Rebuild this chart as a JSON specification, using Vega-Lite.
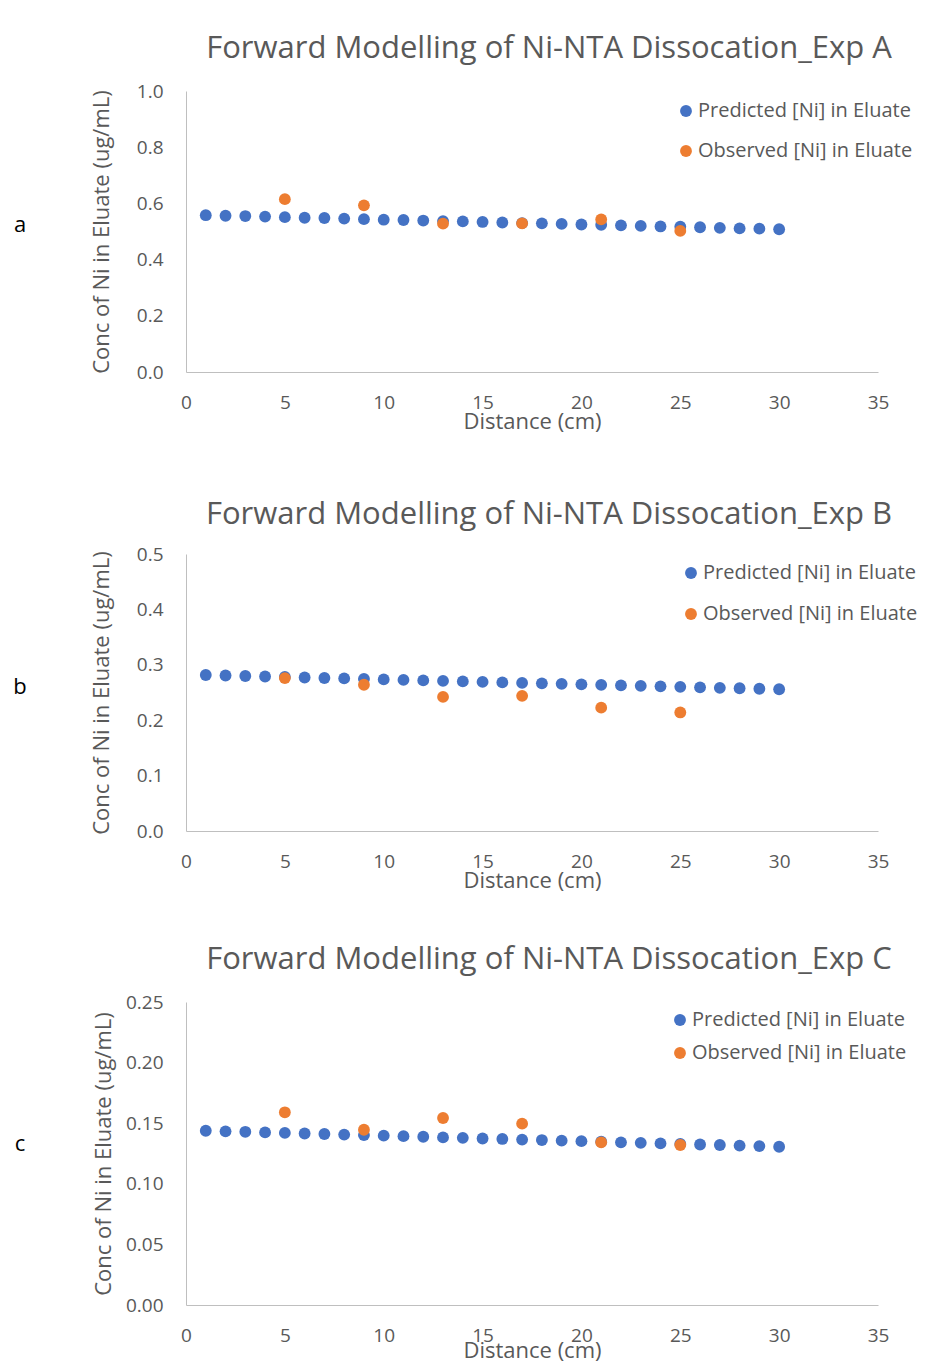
{
  "$schema": "https://vega.github.io/schema/vega-lite/v6.json",
  "background": "white",
  "padding": {"left": 0, "top": 33, "right": 0, "bottom": 0},
  "autosize": {"type": "pad"},
  "spacing": 46,
  "resolve": {"scale": {"color": "independent"}, "legend": {"color": "independent"}},
  "config": {
    "view": {"stroke": null},
    "font": "Open Sans",
    "axis": {
      "grid": false,
      "ticks": false,
      "domainColor": "#BFBFBF",
      "domainWidth": 1,
      "labelFont": "Open Sans",
      "labelFontSize": 19,
      "labelColor": "#595959",
      "labelFlush": false,
      "labelOverlap": false,
      "titleFont": "Open Sans",
      "titleFontSize": 22,
      "titleFontWeight": "normal",
      "titleColor": "#595959"
    },
    "axisX": {"labelPadding": 21, "titlePadding": -1},
    "axisY": {"labelPadding": 23, "titlePadding": 23},
    "title": {"font": "Open Sans", "fontSize": 31, "fontWeight": "normal", "color": "#595959", "anchor": "middle", "dx": 17},
    "legend": {
      "orient": "none",
      "title": null,
      "padding": 0,
      "labelFont": "Open Sans",
      "labelFontSize": 20,
      "labelColor": "#595959",
      "labelLimit": 0,
      "labelOffset": 2,
      "symbolType": "circle",
      "symbolSize": 140,
      "symbolStrokeWidth": 0,
      "symbolOpacity": 1
    }
  },
  "vconcat": [
    {
      "bounds": "flush",
      "spacing": 146,
      "resolve": {"scale": {"color": "independent"}, "legend": {"color": "independent"}},
      "hconcat": [
        {
          "width": 40, "height": 362,
          "data": {"values": [{"t": "a"}]},
          "mark": {"type": "text", "font": "Open Sans", "fontSize": 22, "color": "black", "dy": -47},
          "encoding": {"text": {"field": "t"}}
        },
        {
          "width": 692, "height": 281,
          "title": {"text": "Forward Modelling of Ni-NTA Dissocation_Exp A", "offset": 17},
          "data": {"values": [
            {"x": 1, "y": 0.558, "s": "Predicted [Ni] in Eluate"},
            {"x": 2, "y": 0.556, "s": "Predicted [Ni] in Eluate"},
            {"x": 3, "y": 0.555, "s": "Predicted [Ni] in Eluate"},
            {"x": 4, "y": 0.553, "s": "Predicted [Ni] in Eluate"},
            {"x": 5, "y": 0.551, "s": "Predicted [Ni] in Eluate"},
            {"x": 6, "y": 0.549, "s": "Predicted [Ni] in Eluate"},
            {"x": 7, "y": 0.548, "s": "Predicted [Ni] in Eluate"},
            {"x": 8, "y": 0.546, "s": "Predicted [Ni] in Eluate"},
            {"x": 9, "y": 0.544, "s": "Predicted [Ni] in Eluate"},
            {"x": 10, "y": 0.542, "s": "Predicted [Ni] in Eluate"},
            {"x": 11, "y": 0.541, "s": "Predicted [Ni] in Eluate"},
            {"x": 12, "y": 0.539, "s": "Predicted [Ni] in Eluate"},
            {"x": 13, "y": 0.537, "s": "Predicted [Ni] in Eluate"},
            {"x": 14, "y": 0.536, "s": "Predicted [Ni] in Eluate"},
            {"x": 15, "y": 0.534, "s": "Predicted [Ni] in Eluate"},
            {"x": 16, "y": 0.532, "s": "Predicted [Ni] in Eluate"},
            {"x": 17, "y": 0.530, "s": "Predicted [Ni] in Eluate"},
            {"x": 18, "y": 0.529, "s": "Predicted [Ni] in Eluate"},
            {"x": 19, "y": 0.527, "s": "Predicted [Ni] in Eluate"},
            {"x": 20, "y": 0.525, "s": "Predicted [Ni] in Eluate"},
            {"x": 21, "y": 0.524, "s": "Predicted [Ni] in Eluate"},
            {"x": 22, "y": 0.522, "s": "Predicted [Ni] in Eluate"},
            {"x": 23, "y": 0.520, "s": "Predicted [Ni] in Eluate"},
            {"x": 24, "y": 0.518, "s": "Predicted [Ni] in Eluate"},
            {"x": 25, "y": 0.517, "s": "Predicted [Ni] in Eluate"},
            {"x": 26, "y": 0.515, "s": "Predicted [Ni] in Eluate"},
            {"x": 27, "y": 0.513, "s": "Predicted [Ni] in Eluate"},
            {"x": 28, "y": 0.511, "s": "Predicted [Ni] in Eluate"},
            {"x": 29, "y": 0.510, "s": "Predicted [Ni] in Eluate"},
            {"x": 30, "y": 0.508, "s": "Predicted [Ni] in Eluate"},
            {"x": 5, "y": 0.615, "s": "Observed [Ni] in Eluate"},
            {"x": 9, "y": 0.593, "s": "Observed [Ni] in Eluate"},
            {"x": 13, "y": 0.528, "s": "Observed [Ni] in Eluate"},
            {"x": 17, "y": 0.529, "s": "Observed [Ni] in Eluate"},
            {"x": 21, "y": 0.543, "s": "Observed [Ni] in Eluate"},
            {"x": 25, "y": 0.502, "s": "Observed [Ni] in Eluate"}
          ]},
          "mark": {"type": "circle", "size": 140, "opacity": 1},
          "encoding": {
            "x": {"field": "x", "type": "quantitative", "scale": {"domain": [0, 35], "nice": false},
                  "axis": {"values": [0, 5, 10, 15, 20, 25, 30, 35], "title": "Distance (cm)"}},
            "y": {"field": "y", "type": "quantitative", "scale": {"domain": [0, 1], "nice": false},
                  "axis": {"values": [0, 0.2, 0.4, 0.6, 0.8, 1.0], "format": ".1f", "title": "Conc of Ni in Eluate (ug/mL)"}},
            "color": {"field": "s", "type": "nominal",
                      "scale": {"domain": ["Predicted [Ni] in Eluate", "Observed [Ni] in Eluate"], "range": ["#4472C4", "#ED7D31"]},
                      "legend": {"legendX": 490, "legendY": 10, "rowPadding": 20}}
          }
        }
      ]
    },
    {
      "bounds": "flush",
      "spacing": 146,
      "resolve": {"scale": {"color": "independent"}, "legend": {"color": "independent"}},
      "hconcat": [
        {
          "width": 40, "height": 344,
          "data": {"values": [{"t": "b"}]},
          "mark": {"type": "text", "font": "Open Sans", "fontSize": 22, "color": "black", "dy": -39},
          "encoding": {"text": {"field": "t"}}
        },
        {
          "width": 692, "height": 277,
          "title": {"text": "Forward Modelling of Ni-NTA Dissocation_Exp B", "offset": 14},
          "data": {"values": [
            {"x": 1, "y": 0.2816, "s": "Predicted [Ni] in Eluate"},
            {"x": 2, "y": 0.2807, "s": "Predicted [Ni] in Eluate"},
            {"x": 3, "y": 0.2798, "s": "Predicted [Ni] in Eluate"},
            {"x": 4, "y": 0.2789, "s": "Predicted [Ni] in Eluate"},
            {"x": 5, "y": 0.2780, "s": "Predicted [Ni] in Eluate"},
            {"x": 6, "y": 0.2771, "s": "Predicted [Ni] in Eluate"},
            {"x": 7, "y": 0.2762, "s": "Predicted [Ni] in Eluate"},
            {"x": 8, "y": 0.2754, "s": "Predicted [Ni] in Eluate"},
            {"x": 9, "y": 0.2745, "s": "Predicted [Ni] in Eluate"},
            {"x": 10, "y": 0.2736, "s": "Predicted [Ni] in Eluate"},
            {"x": 11, "y": 0.2727, "s": "Predicted [Ni] in Eluate"},
            {"x": 12, "y": 0.2718, "s": "Predicted [Ni] in Eluate"},
            {"x": 13, "y": 0.2709, "s": "Predicted [Ni] in Eluate"},
            {"x": 14, "y": 0.2700, "s": "Predicted [Ni] in Eluate"},
            {"x": 15, "y": 0.2691, "s": "Predicted [Ni] in Eluate"},
            {"x": 16, "y": 0.2682, "s": "Predicted [Ni] in Eluate"},
            {"x": 17, "y": 0.2673, "s": "Predicted [Ni] in Eluate"},
            {"x": 18, "y": 0.2665, "s": "Predicted [Ni] in Eluate"},
            {"x": 19, "y": 0.2656, "s": "Predicted [Ni] in Eluate"},
            {"x": 20, "y": 0.2647, "s": "Predicted [Ni] in Eluate"},
            {"x": 21, "y": 0.2638, "s": "Predicted [Ni] in Eluate"},
            {"x": 22, "y": 0.2629, "s": "Predicted [Ni] in Eluate"},
            {"x": 23, "y": 0.2620, "s": "Predicted [Ni] in Eluate"},
            {"x": 24, "y": 0.2611, "s": "Predicted [Ni] in Eluate"},
            {"x": 25, "y": 0.2602, "s": "Predicted [Ni] in Eluate"},
            {"x": 26, "y": 0.2593, "s": "Predicted [Ni] in Eluate"},
            {"x": 27, "y": 0.2584, "s": "Predicted [Ni] in Eluate"},
            {"x": 28, "y": 0.2576, "s": "Predicted [Ni] in Eluate"},
            {"x": 29, "y": 0.2567, "s": "Predicted [Ni] in Eluate"},
            {"x": 30, "y": 0.2558, "s": "Predicted [Ni] in Eluate"},
            {"x": 5, "y": 0.276, "s": "Observed [Ni] in Eluate"},
            {"x": 9, "y": 0.264, "s": "Observed [Ni] in Eluate"},
            {"x": 13, "y": 0.242, "s": "Observed [Ni] in Eluate"},
            {"x": 17, "y": 0.244, "s": "Observed [Ni] in Eluate"},
            {"x": 21, "y": 0.2226, "s": "Observed [Ni] in Eluate"},
            {"x": 25, "y": 0.214, "s": "Observed [Ni] in Eluate"}
          ]},
          "mark": {"type": "circle", "size": 140, "opacity": 1},
          "encoding": {
            "x": {"field": "x", "type": "quantitative", "scale": {"domain": [0, 35], "nice": false},
                  "axis": {"values": [0, 5, 10, 15, 20, 25, 30, 35], "title": "Distance (cm)"}},
            "y": {"field": "y", "type": "quantitative", "scale": {"domain": [0, 0.5], "nice": false},
                  "axis": {"values": [0, 0.1, 0.2, 0.3, 0.4, 0.5], "format": ".1f", "title": "Conc of Ni in Eluate (ug/mL)"}},
            "color": {"field": "s", "type": "nominal",
                      "scale": {"domain": ["Predicted [Ni] in Eluate", "Observed [Ni] in Eluate"], "range": ["#4472C4", "#ED7D31"]},
                      "legend": {"legendX": 495, "legendY": 9, "rowPadding": 21}}
          }
        }
      ]
    },
    {
      "bounds": "flush",
      "spacing": 146,
      "resolve": {"scale": {"color": "independent"}, "legend": {"color": "independent"}},
      "hconcat": [
        {
          "width": 40, "height": 303,
          "data": {"values": [{"t": "c"}]},
          "mark": {"type": "text", "font": "Open Sans", "fontSize": 22, "color": "black", "dy": -10},
          "encoding": {"text": {"field": "t"}}
        },
        {
          "width": 692, "height": 303,
          "title": {"text": "Forward Modelling of Ni-NTA Dissocation_Exp C", "offset": 17},
          "data": {"values": [
            {"x": 1, "y": 0.1438, "s": "Predicted [Ni] in Eluate"},
            {"x": 2, "y": 0.1433, "s": "Predicted [Ni] in Eluate"},
            {"x": 3, "y": 0.1429, "s": "Predicted [Ni] in Eluate"},
            {"x": 4, "y": 0.1424, "s": "Predicted [Ni] in Eluate"},
            {"x": 5, "y": 0.1420, "s": "Predicted [Ni] in Eluate"},
            {"x": 6, "y": 0.1415, "s": "Predicted [Ni] in Eluate"},
            {"x": 7, "y": 0.1411, "s": "Predicted [Ni] in Eluate"},
            {"x": 8, "y": 0.1406, "s": "Predicted [Ni] in Eluate"},
            {"x": 9, "y": 0.1402, "s": "Predicted [Ni] in Eluate"},
            {"x": 10, "y": 0.1397, "s": "Predicted [Ni] in Eluate"},
            {"x": 11, "y": 0.1393, "s": "Predicted [Ni] in Eluate"},
            {"x": 12, "y": 0.1388, "s": "Predicted [Ni] in Eluate"},
            {"x": 13, "y": 0.1383, "s": "Predicted [Ni] in Eluate"},
            {"x": 14, "y": 0.1379, "s": "Predicted [Ni] in Eluate"},
            {"x": 15, "y": 0.1374, "s": "Predicted [Ni] in Eluate"},
            {"x": 16, "y": 0.1370, "s": "Predicted [Ni] in Eluate"},
            {"x": 17, "y": 0.1365, "s": "Predicted [Ni] in Eluate"},
            {"x": 18, "y": 0.1361, "s": "Predicted [Ni] in Eluate"},
            {"x": 19, "y": 0.1356, "s": "Predicted [Ni] in Eluate"},
            {"x": 20, "y": 0.1352, "s": "Predicted [Ni] in Eluate"},
            {"x": 21, "y": 0.1347, "s": "Predicted [Ni] in Eluate"},
            {"x": 22, "y": 0.1342, "s": "Predicted [Ni] in Eluate"},
            {"x": 23, "y": 0.1338, "s": "Predicted [Ni] in Eluate"},
            {"x": 24, "y": 0.1333, "s": "Predicted [Ni] in Eluate"},
            {"x": 25, "y": 0.1329, "s": "Predicted [Ni] in Eluate"},
            {"x": 26, "y": 0.1324, "s": "Predicted [Ni] in Eluate"},
            {"x": 27, "y": 0.1320, "s": "Predicted [Ni] in Eluate"},
            {"x": 28, "y": 0.1315, "s": "Predicted [Ni] in Eluate"},
            {"x": 29, "y": 0.1311, "s": "Predicted [Ni] in Eluate"},
            {"x": 30, "y": 0.1306, "s": "Predicted [Ni] in Eluate"},
            {"x": 5, "y": 0.159, "s": "Observed [Ni] in Eluate"},
            {"x": 9, "y": 0.1446, "s": "Observed [Ni] in Eluate"},
            {"x": 13, "y": 0.1543, "s": "Observed [Ni] in Eluate"},
            {"x": 17, "y": 0.1496, "s": "Observed [Ni] in Eluate"},
            {"x": 21, "y": 0.1342, "s": "Observed [Ni] in Eluate"},
            {"x": 25, "y": 0.132, "s": "Observed [Ni] in Eluate"}
          ]},
          "mark": {"type": "circle", "size": 140, "opacity": 1},
          "encoding": {
            "x": {"field": "x", "type": "quantitative", "scale": {"domain": [0, 35], "nice": false},
                  "axis": {"values": [0, 5, 10, 15, 20, 25, 30, 35], "title": "Distance (cm)", "titlePadding": -5}},
            "y": {"field": "y", "type": "quantitative", "scale": {"domain": [0, 0.25], "nice": false},
                  "axis": {"values": [0, 0.05, 0.1, 0.15, 0.2, 0.25], "format": ".2f", "title": "Conc of Ni in Eluate (ug/mL)", "titlePadding": 10}},
            "color": {"field": "s", "type": "nominal",
                      "scale": {"domain": ["Predicted [Ni] in Eluate", "Observed [Ni] in Eluate"], "range": ["#4472C4", "#ED7D31"]},
                      "legend": {"legendX": 484, "legendY": 8, "rowPadding": 13}}
          }
        }
      ]
    }
  ]
}
